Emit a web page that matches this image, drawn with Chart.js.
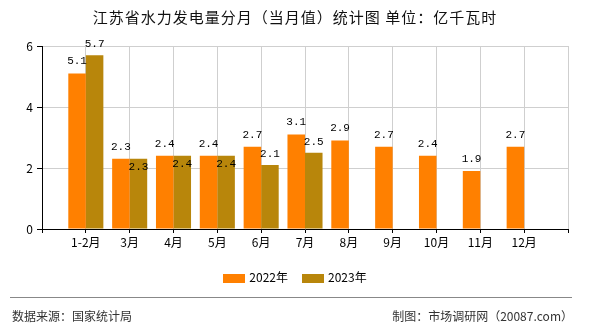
<!DOCTYPE html>
<html>
<head>
<meta charset="utf-8">
<script src="https://cdn.jsdelivr.net/npm/chart.js@4/dist/chart.umd.min.js"></script>
<style>
  html, body { margin: 0; padding: 0; background: #fff; }
  #wrap { position: relative; width: 590px; height: 330px; overflow: hidden; font-family: 'Noto Sans CJK SC', sans-serif; }
  canvas { position: absolute; left: 0; top: 0; }
  #title { position: absolute; left: 0; width: 590px; top: 7px; text-align: center; font-size: 15px; letter-spacing: 1px; color: #111; line-height: 20px; }
  #legend { position: absolute; left: 0; width: 590px; top: 269px; text-align: center; font-size: 12px; color: #000; line-height: 16px; }
  .li { display: inline-block; margin: 0 7px; }
  .sw { display: inline-block; width: 22px; height: 9px; vertical-align: -1px; margin-right: 4px; }
  #rule { position: absolute; left: 10px; width: 562px; top: 297px; height: 0; border-top: 1px solid #888; }
  #src { position: absolute; left: 12px; top: 307px; font-size: 12px; color: #333; line-height: 18px; }
  #maker { position: absolute; right: 17px; top: 307px; font-size: 12px; color: #333; line-height: 18px; }
</style>
</head>
<body>
<div id="wrap">
  <canvas id="c" width="590" height="330"></canvas>
  <div id="title">江苏省水力发电量分月（当月值）统计图 单位：亿千瓦时</div>
  <div id="legend"></div>
  <div id="rule"></div>
  <div id="src">数据来源：国家统计局</div>
  <div id="maker">制图：市场调研网（20087.com）</div>
</div>
<script>
// ---- data ----
const categories = ['1-2月', '3月', '4月', '5月', '6月', '7月', '8月', '9月', '10月', '11月', '12月'];
const seriesNames = ['2022年', '2023年'];
const values2022 = [5.1, 2.3, 2.4, 2.4, 2.7, 3.1, 2.9, 2.7, 2.4, 1.9, 2.7];
const values2023 = [5.7, 2.3, 2.4, 2.4, 2.1, 2.5, null, null, null, null, null];
const yTicks = [0, 2, 4, 6];
const colors = ['#FF8000', '#B8860B'];

// padded category axis: an empty slot at each end
const labels = [''].concat(categories, ['']);
const pad = arr => [null].concat(arr, [null]);

const labelPlugin = {
  id: 'valueLabels',
  afterDatasetsDraw(chart) {
    const ctx = chart.ctx;
    ctx.save();
    ctx.font = '11px "Liberation Mono", "DejaVu Sans Mono", monospace';
    ctx.fillStyle = '#000';
    ctx.textAlign = 'center';
    ctx.textBaseline = 'middle';
    const m0 = chart.getDatasetMeta(0);
    const m1 = chart.getDatasetMeta(1);
    const d0 = chart.data.datasets[0].data;
    const d1 = chart.data.datasets[1].data;
    for (let i = 0; i < labels.length; i++) {
      if (d0[i] != null) {
        const el = m0.data[i];
        ctx.fillText(d0[i].toFixed(1), el.x, el.y - 12);
      }
      if (d1[i] != null) {
        const el = m1.data[i];
        let y = el.y - 11;
        if (d0[i] != null && Math.abs(m0.data[i].y - el.y) < 12) y = el.y + 8;
        ctx.fillText(d1[i].toFixed(1), el.x, y);
      }
    }
    ctx.restore();
  }
};

Chart.defaults.font.family = "'Noto Sans CJK SC', sans-serif";
Chart.defaults.font.size = 12;
Chart.defaults.color = '#000';

new Chart(document.getElementById('c'), {
  type: 'bar',
  data: {
    labels: labels,
    datasets: [
      { label: seriesNames[0], data: pad(values2022), backgroundColor: colors[0], categoryPercentage: 0.8, barPercentage: 1.0 },
      { label: seriesNames[1], data: pad(values2023), backgroundColor: colors[1], categoryPercentage: 0.8, barPercentage: 1.0 }
    ]
  },
  options: {
    responsive: false,
    animation: false,
    layout: { padding: { left: 0, right: 22, top: 46, bottom: 76 } },
    plugins: { legend: { display: false }, tooltip: { enabled: false } },
    scales: {
      x: {
        offset: false,
        grid: { offset: false, color: '#cfcfcf', tickColor: '#000', tickLength: 4, drawTicks: true },
        border: { color: '#000', width: 1 },
        ticks: { autoSkip: false, maxRotation: 0, padding: 2, color: '#000', font: { size: 12 } },
        afterFit(s) { s.height = 25; }
      },
      y: {
        min: 0, max: 6,
        afterBuildTicks(s) { s.ticks = yTicks.map(v => ({ value: v })); },
        grid: { color: '#cfcfcf', tickColor: '#000', tickLength: 5 },
        border: { color: '#000', width: 1 },
        ticks: { padding: 4, color: '#000', font: { size: 12 } },
        afterFit(s) { s.width = 42; }
      }
    }
  },
  plugins: [labelPlugin]
});

// HTML legend
const lg = document.getElementById('legend');
seriesNames.forEach((n, i) => {
  const s = document.createElement('span');
  s.className = 'li';
  s.innerHTML = '<span class="sw" style="background:' + colors[i] + '"></span>' + n;
  lg.appendChild(s);
});
</script>
</body>
</html>
